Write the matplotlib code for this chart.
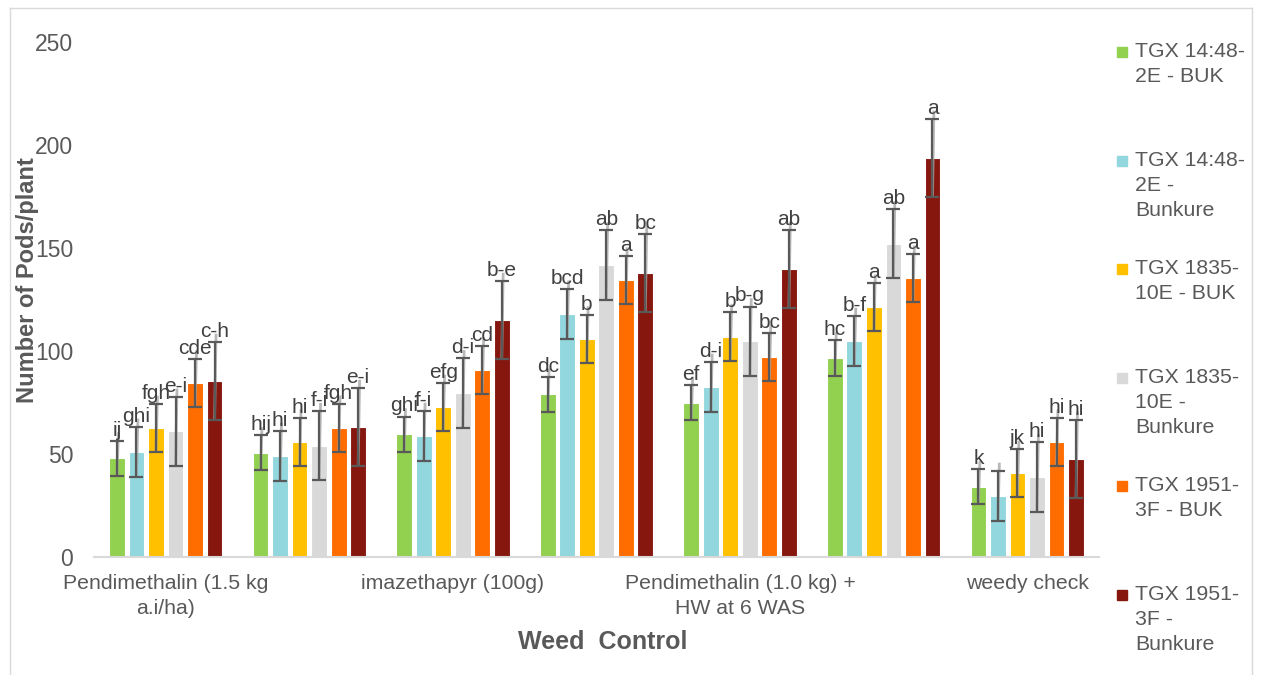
import numpy as np
import matplotlib.pyplot as plt
from matplotlib.lines import Line2D
from matplotlib.patches import Rectangle

plt.rcParams["font.family"] = ["Liberation Sans", "DejaVu Sans"]

# Treatments (only every other name is printed on the axis)
tick_labels = ["Pendimethalin (1.5 kg\na.i/ha)", "", "imazethapyr (100g)", "",
               "Pendimethalin (1.0 kg) +\nHW at 6 WAS", "", "weedy check"]

varieties = ["TGX 14:48-\n2E - BUK", "TGX 14:48-\n2E -\nBunkure",
             "TGX 1835-\n10E - BUK", "TGX 1835-\n10E -\nBunkure",
             "TGX 1951-\n3F - BUK", "TGX 1951-\n3F -\nBunkure"]
colors = ["#92D050", "#92D6DE", "#FFC000", "#D9D9D9", "#FF6D00", "#85170F"]

# pods per plant, one list per variety across the 7 treatments
tgx1448_buk = [48, 50.5, 59.7, 79, 75, 96.6, 34]
tgx1448_bunkure = [51, 49, 58.7, 118, 82.5, 104.8, 29.6]
tgx1835_buk = [62.6, 56, 72.8, 106, 107, 121.4, 40.8]
tgx1835_bunkure = [61, 54, 79.6, 141.7, 104.8, 152, 38.8]
tgx1951_buk = [84.5, 62.6, 90.8, 134.5, 97, 135.4, 55.8]
tgx1951_bunkure = [85.4, 63, 115, 137.9, 139.8, 193.7, 47.6]
values = [tgx1448_buk, tgx1448_bunkure, tgx1835_buk, tgx1835_bunkure,
          tgx1951_buk, tgx1951_bunkure]

# standard error of each variety
errors = [8.5, 12.2, 11.7, 16.8, 11.8, 19]

# mean separation letters
letters = [
    ["ij", "hij", "ghi", "dc", "ef", "hc", "k"],
    ["ghi", "hi", "f-i", "bcd", "d-i", "b-f", ""],
    ["fgh", "hi", "efg", "b", "b", "a", "jk"],
    ["e-i", "f-i", "d-i", "ab", "b-g", "ab", "hi"],
    ["cde", "fgh", "cd", "a", "bc", "a", "hi"],
    ["c-h", "e-i", "b-e", "bc", "ab", "a", "hi"],
]

W, H = 1263, 675
fig = plt.figure(figsize=(W / 100, H / 100), dpi=100)
ax = fig.add_axes([94 / W, (H - 557) / H, (1099 - 94) / W, (557 - 42) / H])

x = np.arange(len(tick_labels))
step = 0.136
width = 0.11
txt = "#404040"
grey = "#595959"

for j, (vals, col) in enumerate(zip(values, colors)):
    xs = x + (j - 2.5) * step
    vals = np.array(vals)
    ax.bar(xs, vals, width, color=col, edgecolor="white", linewidth=0.8, zorder=2)
    tops = vals + errors[j]
    # faint leader lines from the letters down through the error bar
    for xi, top, low in zip(xs, tops, vals - errors[j]):
        ax.plot([xi + 0.01, xi], [top + 4, low], color="#A6A6A6", lw=2,
                alpha=0.8, zorder=3, solid_capstyle="butt")
    ax.errorbar(xs, vals, yerr=errors[j], fmt="none", ecolor=grey,
                elinewidth=1.6, capsize=5, capthick=1.6, zorder=4)
    for xi, top, lab in zip(xs, tops, letters[j]):
        ax.text(xi, top + 0.5, lab, ha="center", va="bottom", fontsize=15,
                color=txt, zorder=5)

ax.set_xlim(-0.5, len(tick_labels) - 0.5)
ax.set_ylim(0, 250)
ax.set_yticks(range(0, 251, 50))
ax.set_xticks(x)
ax.set_xticklabels(tick_labels, fontsize=15.3, color=grey, linespacing=1.4)
ax.tick_params(axis="y", length=0, labelsize=16.5, labelcolor=grey, pad=15)
ax.tick_params(axis="x", length=0, pad=12)
for side in ["top", "right", "left"]:
    ax.spines[side].set_visible(False)
ax.spines["bottom"].set_color("#D9D9D9")
ax.spines["bottom"].set_linewidth(1.5)

fig.text(28 / W, 1 - 280 / H, "Number of Pods/plant", rotation=90,
         ha="center", va="center", fontsize=17, fontweight="bold", color=grey)
fig.text(603 / W, 1 - 642 / H, "Weed  Control", ha="center", va="center",
         fontsize=18, fontweight="bold", color=grey)

# legend on the right, entries spread evenly down the side
for k, (lab, col) in enumerate(zip(varieties, colors)):
    yc = 1 - (52 + k * 108.6) / H
    fig.patches.append(Rectangle((1117 / W, yc - 5 / H), 10 / W, 10 / H,
                                 transform=fig.transFigure, color=col))
    fig.text(1135 / W, yc + 10 / H, lab, ha="left", va="top", fontsize=15.3,
             color=grey, linespacing=1.4)

# chart frame
frame = [([10, 10], [675, 8]), ([10, 1252], [8, 8]), ([1252, 1252], [8, 675])]
for xs_, ys_ in frame:
    fig.lines.append(Line2D([v / W for v in xs_], [1 - v / H for v in ys_],
                            transform=fig.transFigure, color="#D9D9D9", lw=1))

fig.savefig("out.png", dpi=100)
